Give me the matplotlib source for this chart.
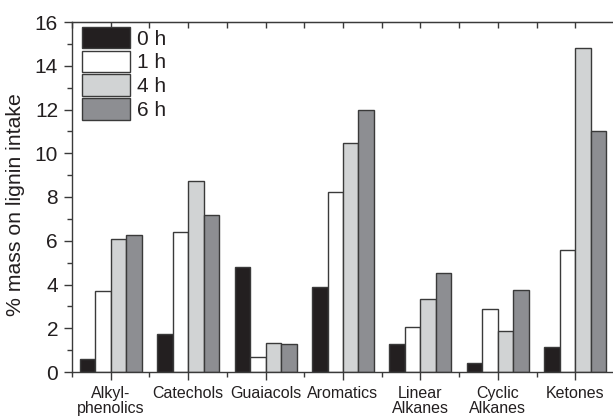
import numpy as np
import matplotlib
matplotlib.use("Agg")
import matplotlib.pyplot as plt
from matplotlib.ticker import MultipleLocator, FixedLocator

# categorias de produtos e rendimento (% massa sobre lignina alimentada)
categorias = ["Alkyl-\nphenolics", "Catechols", "Guaiacols", "Aromatics",
              "Linear\nAlkanes", "Cyclic\nAlkanes", "Ketones"]
tempos = ["0 h", "1 h", "4 h", "6 h"]
val_0h = [0.58, 1.74, 4.82, 3.87, 1.27, 0.40, 1.14]
val_1h = [3.70, 6.38, 0.67, 8.24, 2.07, 2.88, 5.56]
val_4h = [6.07, 8.72, 1.31, 10.48, 3.34, 1.89, 14.81]
val_6h = [6.25, 7.16, 1.27, 11.96, 4.54, 3.73, 11.02]
series = [val_0h, val_1h, val_4h, val_6h]
cores = ["#231f20", "#ffffff", "#d1d3d4", "#8d8e92"]

plt.rcParams["font.family"] = ["Liberation Sans", "DejaVu Sans"]
texto = "#231f20"
linha = "#3a3a3a"

fig = plt.figure(figsize=(6.13, 4.16), dpi=100)
ax = fig.add_axes([72 / 613, 1 - 372 / 416, 542 / 613, 350 / 416])

x = np.arange(len(categorias))
largura = 0.2
for i, (vals, cor) in enumerate(zip(series, cores)):
    ax.bar(x + (i - 1.5) * largura, vals, largura, color=cor,
           edgecolor=linha, linewidth=1.0, label=tempos[i])

ax.set_xlim(-0.5, len(categorias) - 0.5)
ax.set_ylim(0, 16)
ax.yaxis.set_major_locator(MultipleLocator(2))
ax.yaxis.set_minor_locator(MultipleLocator(1))
ax.set_xticks(x)
ax.set_xticklabels(categorias, fontsize=11.5, color=texto, linespacing=1.0)
divisas = np.arange(-0.5, len(categorias), 1.0)
ax.xaxis.set_minor_locator(FixedLocator(divisas))

for s in ax.spines.values():
    s.set_color(linha)
    s.set_linewidth(1.0)

ax.tick_params(axis="y", which="major", direction="out", length=6, width=1,
               labelsize=15, colors=linha, labelcolor=texto, pad=4)
ax.tick_params(axis="y", which="minor", direction="out", length=3.5, width=1,
               colors=linha)
ax.tick_params(axis="x", which="major", direction="out", length=6, width=1,
               colors=linha, labelcolor=texto, pad=4)
ax.tick_params(axis="x", which="minor", direction="out", length=3.5, width=1,
               colors=linha)

# marcas internas no eixo superior
topo = ax.secondary_xaxis("top")
topo.set_xticks(x)
topo.set_xticklabels([])
topo.xaxis.set_minor_locator(FixedLocator(divisas))
topo.tick_params(axis="x", which="both", direction="in", length=4, width=1,
                 colors=linha)
topo.spines["top"].set_color(linha)

ax.set_ylabel("% mass on lignin intake", fontsize=15.3, color=texto, labelpad=7)
ax.yaxis.label.set_y(0.477)

leg = ax.legend(loc="upper left", bbox_to_anchor=(0.018, 0.986), frameon=False,
                fontsize=15, handlelength=2.3, handleheight=1.2,
                labelspacing=0.1, handletextpad=0.35, borderpad=0,
                borderaxespad=0)
for t in leg.get_texts():
    t.set_color(texto)

fig.savefig("out.png", dpi=100)
